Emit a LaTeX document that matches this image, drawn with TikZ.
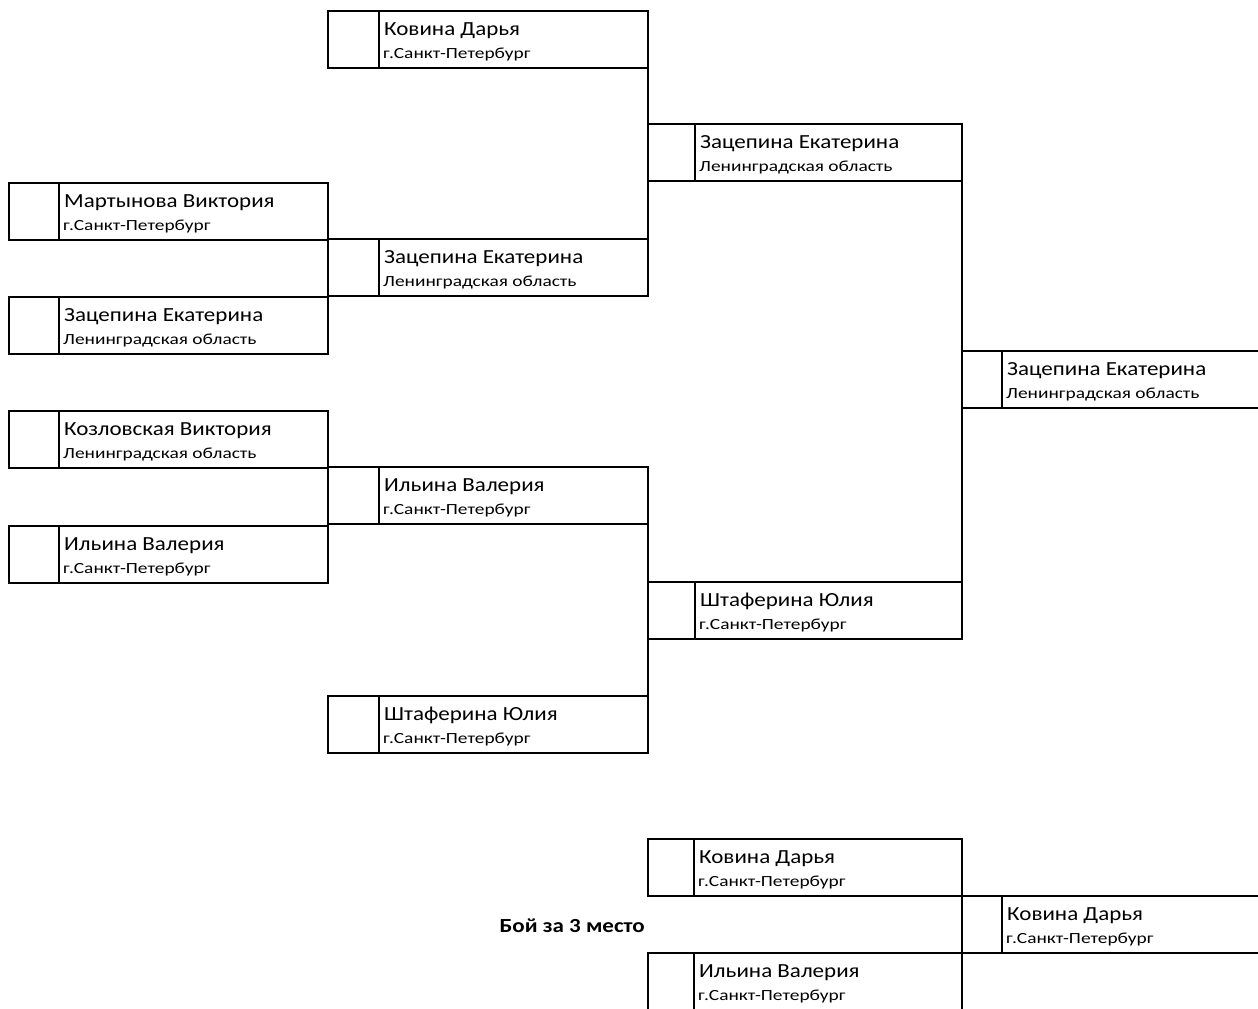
\documentclass[tikz,border=0pt]{standalone}
\usepackage{fontspec}
\setmainfont{Carlito}
\newfontfamily\fiofont[FakeStretch=1.15]{Carlito}
\newfontfamily\cityfont[FakeStretch=1.25]{Carlito}
\usetikzlibrary{positioning}

\tikzset{
  cell/.style={draw, line width=1.5pt, minimum height=57pt, inner sep=0pt, outer sep=0pt, anchor=north west},
  entry/.style={draw, line width=1.5pt, minimum height=57pt, inner sep=0pt, outer sep=0pt},
  fio/.style={anchor=base west, inner sep=0pt, font=\fiofont\fontsize{20}{23}\selectfont},
  city/.style={anchor=base west, inner sep=0pt, font=\cityfont\fontsize{15.5}{18}\selectfont},
  link/.style={line width=1.5pt}
}

% [#1 cell width], #2 name, #3 x, #4 y (top), #5 width of text part, #6 fio, #7 city
\newcommand{\fighter}[7][48]{%
  \node[cell, minimum width=#1pt] (#2c) at (#3,#4) {};
  \node[entry, minimum width=#5pt, right=0pt of #2c.north east, anchor=north west] (#2) {};
  \node[fio] (#2n) at ([xshift=5pt,yshift=-24pt]#2.north west) {#6};
  \node[city] (#2g) at ([xshift=4pt,yshift=-47pt]#2.north west) {#7};
}

\begin{document}
\begin{tikzpicture}[x=1pt, y=-1pt]
\clip (0,0) rectangle (1258,1009);
\useasboundingbox (0,0) rectangle (1258,1009);

% first round
\fighter[50]{mart}{9}{183}{269}{Мартынова Виктория}{г.Санкт-Петербург}
\fighter[50]{zacA}{9}{297}{269}{Зацепина Екатерина}{Ленинградская область}
\fighter[50]{kozl}{9}{411}{269}{Козловская Виктория}{Ленинградская область}
\fighter[50]{ilA}{9}{526}{269}{Ильина Валерия}{г.Санкт-Петербург}

% quarter finals
\fighter[51]{kovA}{328}{11}{269}{Ковина Дарья}{г.Санкт-Петербург}
\fighter[51]{zacB}{328}{239}{269}{Зацепина Екатерина}{Ленинградская область}
\fighter[51]{ilB}{328}{467}{269}{Ильина Валерия}{г.Санкт-Петербург}
\fighter[51]{shtA}{328}{696}{269}{Штаферина Юлия}{г.Санкт-Петербург}

% semi finals
\fighter[47]{zacC}{648}{124}{267}{Зацепина Екатерина}{Ленинградская область}
\fighter[47]{shtB}{648}{582}{267}{Штаферина Юлия}{г.Санкт-Петербург}

% final
\fighter[40]{zacD}{962}{351}{330}{Зацепина Екатерина}{Ленинградская область}

% third place
\fighter[46]{kovB}{648}{839}{268}{Ковина Дарья}{г.Санкт-Петербург}
\fighter[40]{kovC}{962}{896}{330}{Ковина Дарья}{г.Санкт-Петербург}
\fighter[46]{ilC}{648}{953}{268}{Ильина Валерия}{г.Санкт-Петербург}
\node[anchor=base east, inner sep=0pt, font=\fiofont\bfseries\fontsize{20}{23}\selectfont] (bronze) at (645,932) {Бой за 3 место};

\draw[link] (mart.south east) -- (zacA.north east);
\draw[link] (kozl.south east) -- (ilA.north east);
\draw[link] (kovA.south east) -- (zacB.north east);
\draw[link] (ilB.south east) -- (shtA.north east);
\draw[link] (zacC.south east) -- (shtB.north east);
\draw[link] (kovB.south east) -- (ilC.north east);
\end{tikzpicture}
\end{document}
